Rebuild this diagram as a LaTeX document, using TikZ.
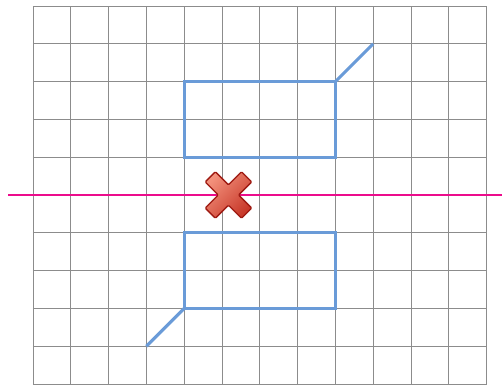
\documentclass[tikz,border=0pt]{standalone}
\usepackage{xcolor}
\usepackage{tikz}
\usetikzlibrary{arrows.meta,positioning,calc}

\definecolor{gridgray}{HTML}{8C8C8C}
\definecolor{pathblue}{HTML}{6A9BD8}
\definecolor{cutpink}{HTML}{EC0C8C}
\definecolor{crossdark}{HTML}{9E1A12}
\definecolor{crosslight}{HTML}{F3917C}
\definecolor{crossred}{HTML}{C8392A}

\begin{document}
\begin{tikzpicture}[
  x=1cm, y=1cm,
  gridline/.style={gridgray, line width=0.75pt},
  route/.style={pathblue, line width=2.3pt, line join=miter},
  cutline/.style={cutpink, line width=1.6pt},
  crossmark/.style={draw=crossdark, line width=1pt, rounded corners=0.8pt,
    top color=crosslight, bottom color=crossred, shading angle=45}
]
  \useasboundingbox (-0.873,-0.026) rectangle (12.407,10.159);
  % grid
  \draw[gridline] (0,0) grid (12,10);
  % upper and lower paths
  \draw[route] (4,6) rectangle (8,8);
  \draw[route] (8,8) -- (9,9);
  \draw[route] (4,2) rectangle (8,4);
  \draw[route] (4,2) -- (3,1);
  % cut line
  \coordinate (cutL) at (-0.661,5);
  \coordinate (cutR) at (12.41,5);
  \draw[cutline] (cutL) -- (cutR);
  % cross
  \begin{scope}[shift={(5.17,5)}, rotate=45]
    \path[crossmark] (-0.68,-0.19) -- (-0.19,-0.19) -- (-0.19,-0.68) -- (0.19,-0.68)
      -- (0.19,-0.19) -- (0.68,-0.19) -- (0.68,0.19) -- (0.19,0.19) -- (0.19,0.68)
      -- (-0.19,0.68) -- (-0.19,0.19) -- (-0.68,0.19) -- cycle;
  \end{scope}
\end{tikzpicture}
\end{document}
